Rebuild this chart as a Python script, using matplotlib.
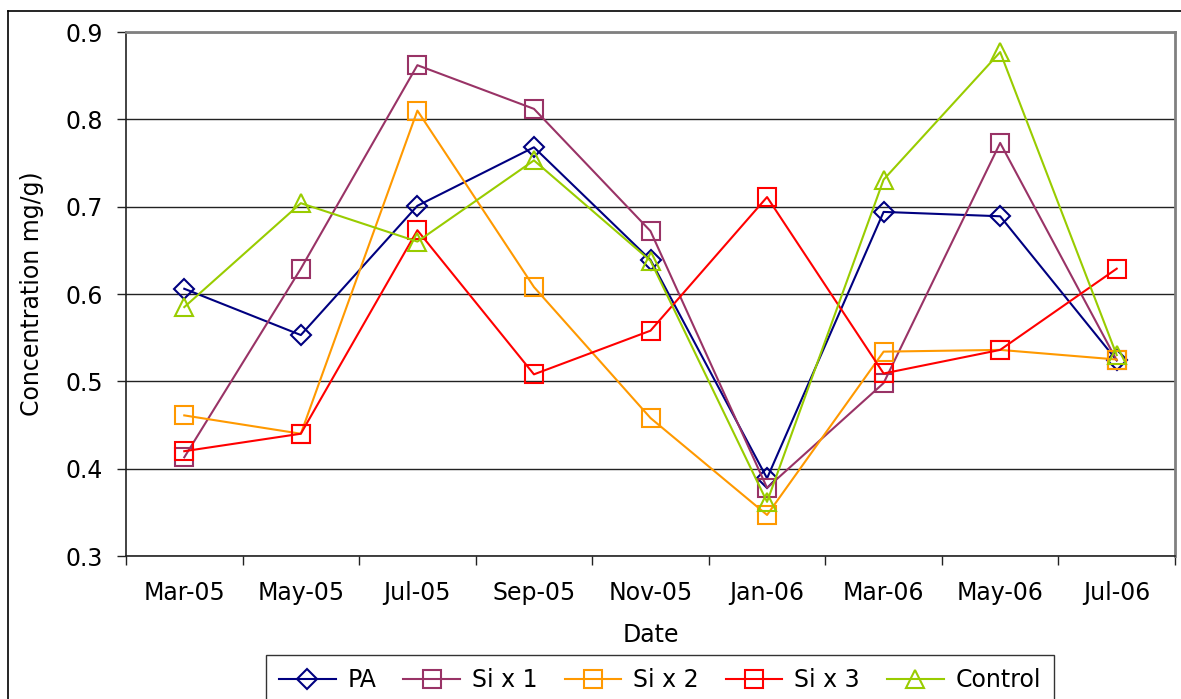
import matplotlib.pyplot as plt
from matplotlib.lines import Line2D

plt.rcParams['font.family'] = ['DejaVu Sans']

dates = ['Mar-05', 'May-05', 'Jul-05', 'Sep-05', 'Nov-05', 'Jan-06', 'Mar-06', 'May-06', 'Jul-06']

pa = [0.606, 0.553, 0.701, 0.768, 0.639, 0.389, 0.694, 0.689, 0.524]
si_x1 = [0.413, 0.629, 0.862, 0.812, 0.672, 0.378, 0.498, 0.773, 0.524]
si_x2 = [0.461, 0.440, 0.810, 0.608, 0.458, 0.347, 0.534, 0.536, 0.525]
si_x3 = [0.420, 0.440, 0.673, 0.508, 0.558, 0.711, 0.509, 0.536, 0.629]
control = [0.585, 0.704, 0.660, 0.753, 0.638, 0.362, 0.731, 0.877, 0.530]

series = [
    ('PA', pa, '#000080', 'D', 10.5),
    ('Si x 1', si_x1, '#993366', 's', 12.5),
    ('Si x 2', si_x2, '#FF9900', 's', 12.5),
    ('Si x 3', si_x3, '#FF0000', 's', 12.5),
    ('Control', control, '#99CC00', '^', 13),
]

fs = 17

fig = plt.figure(figsize=(11.81, 6.99), dpi=100)
ax = fig.add_axes([126 / 1181, 1 - 556 / 699, (1175 - 126) / 1181, (556 - 32) / 699])

x = list(range(len(dates)))
for name, vals, col, mk, ms in series:
    ax.plot(x, vals, color=col, lw=1.5, marker=mk, ms=ms, mfc='none',
            mec=col, mew=1.5, label=name, zorder=3)

ax.set_xlim(-0.5, len(dates) - 0.5)
ax.set_ylim(0.3, 0.9)
ax.set_yticks([0.3, 0.4, 0.5, 0.6, 0.7, 0.8, 0.9])
ax.set_yticklabels(['0.3', '0.4', '0.5', '0.6', '0.7', '0.8', '0.9'])
ax.set_xticks(x)
ax.set_xticklabels(dates)
ax.set_xticks([i - 0.5 for i in range(len(dates) + 1)], minor=True)
ax.tick_params(axis='x', which='major', length=0, pad=18, labelsize=fs)
ax.tick_params(axis='x', which='minor', length=6.5, width=1, color='#222222')
ax.tick_params(axis='y', length=6.5, width=1, color='#222222', labelsize=fs, pad=10)

ax.grid(axis='y', color='#222222', lw=1, zorder=1)
for s in ['top', 'right']:
    ax.spines[s].set_color('#808080')
    ax.spines[s].set_linewidth(2)
for s in ['left', 'bottom']:
    ax.spines[s].set_color('#222222')
    ax.spines[s].set_linewidth(1.2)

ax.set_xlabel('Date', fontsize=fs)
ax.xaxis.set_label_coords(0.5, -0.127)
ax.set_ylabel('Concentration mg/g)', fontsize=fs)
ax.yaxis.set_label_coords(-0.078, 0.5)

leg = fig.legend(loc='upper center', bbox_to_anchor=(660 / 1181, 1 - 655 / 699),
                 ncol=5, fontsize=fs, frameon=True, fancybox=False,
                 edgecolor='black', handlelength=2.4, handletextpad=0.5,
                 columnspacing=1.15, borderpad=0.55, borderaxespad=0)
leg.get_frame().set_linewidth(1)

# outer chart frame (top and left visible)
fig.add_artist(Line2D([8 / 1181, 1], [1 - 11 / 699, 1 - 11 / 699], color='black', lw=1.2))
fig.add_artist(Line2D([8 / 1181, 8 / 1181], [0, 1 - 11 / 699], color='black', lw=1.2))

fig.savefig('out.png', dpi=100)
